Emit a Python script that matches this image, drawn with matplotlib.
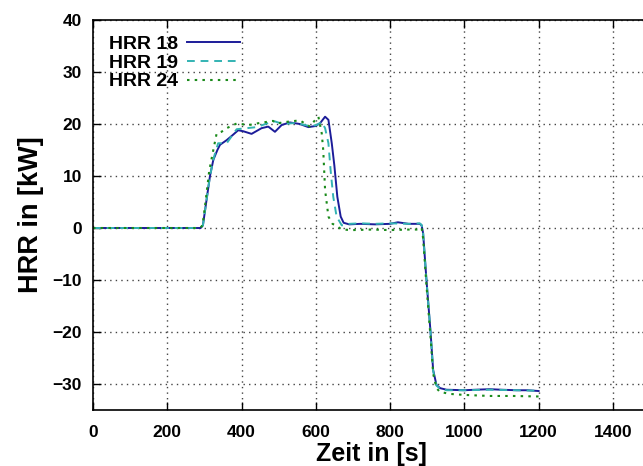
import matplotlib
matplotlib.use("Agg")
import matplotlib.pyplot as plt

plt.rcParams['font.family'] = ['Liberation Sans', 'DejaVu Sans']
plt.rcParams['font.weight'] = 'bold'

# HRR 18 (durchgezogen)
t18 = [0, 290, 296, 305, 315, 324, 335, 342, 360, 375, 391, 405, 427, 454, 472, 490,
       508, 530, 557, 580, 598, 611, 625, 634, 643, 650, 658, 667, 675, 690, 720, 760,
       800, 821, 850, 880, 885, 889, 898, 909, 916, 925, 935, 952, 1000, 1030, 1068,
       1100, 1140, 1170, 1200]
hrr18 = [0, 0, 0.5, 5, 10, 13.1, 15, 16, 16.9, 17.8, 18.8, 18.6, 18.1, 19.2, 19.5, 18.5,
         19.8, 20.3, 20.0, 19.4, 19.6, 20.1, 21.4, 20.8, 16.3, 12, 6, 2.2, 1.0, 0.7, 0.8, 0.7,
         0.8, 1.1, 0.8, 0.8, 0.5, -1, -10, -20, -27.3, -30.2, -30.8, -31.1, -31.2, -31.1, -31.0,
         -31.1, -31.2, -31.2, -31.35]

# HRR 19 (gestrichelt)
t19 = [0, 290, 296, 305, 315, 326, 337, 350, 360, 373, 387, 414, 441, 476, 490, 511,
       545, 584, 602, 616, 625, 634, 640, 647, 656, 670, 690, 720, 760, 800, 850, 880,
       885, 889, 898, 909, 916, 925, 935, 952, 1000, 1068, 1140, 1200]
hrr19 = [0, 0, 0.5, 5, 10, 13.7, 16.3, 16.3, 16.3, 17.6, 19.0, 19.2, 19.4, 20.3, 20.5, 20.0,
         20.2, 19.6, 19.8, 20.4, 19.2, 16.3, 11, 6, 2.2, 0.5, 0.8, 0.9, 0.8, 0.9, 0.8, 0.9,
         0.6, -1, -10, -20, -27.5, -30.3, -30.9, -31.2, -31.2, -31.1, -31.2, -31.3]

# HRR 24 (gepunktet)
t24 = [0, 288, 295, 303, 313, 324, 333, 346, 360, 387, 420, 441, 485, 494, 520, 557,
       584, 602, 607, 616, 620, 625, 634, 645, 656, 670, 700, 750, 800, 850, 880, 885,
       889, 898, 909, 916, 925, 934, 960, 1000, 1068, 1130, 1200]
hrr24 = [0, 0, 0.5, 5, 11, 15, 18.2, 18.5, 19.2, 20.1, 19.8, 20.1, 20.6, 20.1, 20.4, 20.7,
         19.5, 21.1, 21.4, 18.2, 15, 7.3, 2.2, 0.8, 0.4, -0.3, -0.4, -0.3, -0.4, -0.3, -0.3, 0,
         -2, -11, -21, -28, -30.8, -31.5, -31.9, -32.1, -32.3, -32.3, -32.4]

xticks = [0, 200, 400, 600, 800, 1000, 1200, 1400]
yticks = [-30, -20, -10, 0, 10, 20, 30, 40]

fig = plt.figure(figsize=(6.43, 4.66), dpi=100)
# Achse ragt rechts etwas ueber das Bild hinaus (wie im Original abgeschnitten)
ax = fig.add_axes([93 / 643, 56 / 466, 557 / 643, 390 / 466])

ax.plot(t18, hrr18, color='#1c1c99', lw=1.4, label='HRR 18')
ax.plot(t19, hrr19, color='#33b3b3', lw=1.4, ls=(0, (4, 3)), label='HRR 19')
ax.plot(t24, hrr24, color='#1a8a1a', lw=1.5, ls=(0, (1.2, 2.5)), label='HRR 24')

ax.set_xlim(0, 1500)
ax.set_ylim(-35, 40)
ax.set_xticks(xticks)
ax.set_yticks(yticks)
ax.tick_params(direction='in', top=True, right=True, length=6, width=1,
               labelsize=12.5, pad=8)
ax.tick_params(axis='x', pad=11)
for lab in ax.get_xticklabels() + ax.get_yticklabels():
    lab.set_fontweight('bold')

ax.grid(True, ls=(0, (1, 3)), color='#444444', lw=1)
for s in ax.spines.values():
    s.set_linewidth(1.2)

ax.set_xlabel('Zeit in [s]', fontsize=18, fontweight='bold', labelpad=1)
ax.set_ylabel('HRR in [kW]', fontsize=19.5, fontweight='bold', labelpad=6)

leg = ax.legend(loc='upper left', frameon=False, markerfirst=False, fontsize=14,
                handlelength=2.7, labelspacing=0.05, borderaxespad=0.4,
                handletextpad=0.5)

fig.savefig('out.png', dpi=100)
